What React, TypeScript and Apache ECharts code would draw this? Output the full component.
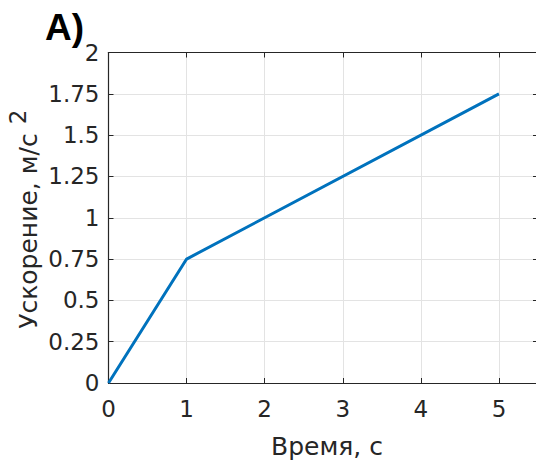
import React, { useEffect, useRef } from "react";
import * as echarts from "echarts";

const timeValues = [0, 1, 5];
const accelValues = [0, 0.75, 1.75];
const xTicks = [0, 1, 2, 3, 4, 5];
const yTicks = [0, 0.25, 0.5, 0.75, 1, 1.25, 1.5, 1.75, 2];
const panelLabel = "A)";
const xName = "Время, с";
const yName = "Ускорение, м/с";
const yNameSup = "2";

const AXIS = "#262626";
const GRID = "#e3e3e3";
const FONT = "DejaVu Sans";

export default function App() {
  const ref = useRef<HTMLDivElement>(null);
  useEffect(() => {
    if (!ref.current) return;
    const chart = echarts.init(ref.current, undefined, { renderer: "svg" });
    const data = timeValues.map((t, i) => [t, accelValues[i]]);
    const labelStyle = { color: AXIS, fontFamily: FONT, fontSize: 23 };
    chart.setOption({
      animation: false,
      backgroundColor: "#ffffff",
      grid: { left: 108.5, top: 52.5, right: 22, bottom: 83, containLabel: false },
      xAxis: [
        {
          type: "value",
          min: xTicks[0],
          max: 5.5,
          interval: 1,
          axisLine: { show: true, onZero: false, lineStyle: { color: AXIS, width: 1.2 } },
          axisTick: { show: true, inside: true, length: 5, lineStyle: { color: AXIS } },
          splitLine: { show: true, lineStyle: { color: GRID, width: 1 } },
          axisLabel: { ...labelStyle, margin: 14, showMaxLabel: false, formatter: (v: number) => (xTicks.includes(v) ? String(v) : "") },
        },
        {
          type: "value",
          position: "top",
          min: xTicks[0],
          max: 5.5,
          interval: 1,
          axisLine: { show: true, onZero: false, lineStyle: { color: AXIS, width: 1.2 } },
          axisTick: { show: true, inside: true, length: 5, lineStyle: { color: AXIS } },
          splitLine: { show: false },
          axisLabel: { show: false },
        },
      ],
      yAxis: [
        {
          type: "value",
          min: yTicks[0],
          max: yTicks[yTicks.length - 1],
          interval: 0.25,
          axisLine: { show: true, onZero: false, lineStyle: { color: AXIS, width: 1.2 } },
          axisTick: { show: true, inside: true, length: 5, lineStyle: { color: AXIS } },
          splitLine: { show: true, lineStyle: { color: GRID, width: 1 } },
          axisLabel: { ...labelStyle, margin: 9, formatter: (v: number) => String(v) },
        },
        {
          type: "value",
          position: "right",
          min: yTicks[0],
          max: yTicks[yTicks.length - 1],
          interval: 0.25,
          axisLine: { show: true, onZero: false, lineStyle: { color: AXIS, width: 1.2 } },
          axisTick: { show: true, inside: true, length: 5, lineStyle: { color: AXIS } },
          splitLine: { show: false },
          axisLabel: { show: false },
        },
      ],
      series: [
        {
          type: "line",
          data,
          xAxisIndex: 0,
          yAxisIndex: 0,
          showSymbol: false,
          symbol: "none",
          lineStyle: { color: "#0072BD", width: 3 },
          z: 5,
        },
      ],
      graphic: [
        {
          type: "text",
          x: 45,
          y: 27,
          style: {
            text: panelLabel,
            font: "bold 37px 'Liberation Sans', Arial, sans-serif",
            fill: "#000000",
            textAlign: "left",
            textVerticalAlign: "middle",
          },
        },
        {
          type: "text",
          x: 28,
          y: 231,
          rotation: Math.PI / 2,
          style: {
            text: yName,
            font: `25px '${FONT}'`,
            fill: AXIS,
            textAlign: "center",
            textVerticalAlign: "middle",
          },
        },
        {
          type: "text",
          x: 17.5,
          y: 117,
          rotation: Math.PI / 2,
          style: {
            text: yNameSup,
            font: `23px '${FONT}'`,
            fill: AXIS,
            textAlign: "center",
            textVerticalAlign: "middle",
          },
        },
        {
          type: "text",
          x: 327,
          y: 446,
          style: {
            text: xName,
            font: `25px '${FONT}'`,
            fill: AXIS,
            textAlign: "center",
            textVerticalAlign: "middle",
          },
        },
      ],
    });
    return () => chart.dispose();
  }, []);
  return (
    <div style={{ position: "fixed", left: 0, top: 0, width: 536, height: 466, overflow: "hidden", background: "#fff" }}>
      <div ref={ref} style={{ width: 560, height: 466 }} />
    </div>
  );
}
